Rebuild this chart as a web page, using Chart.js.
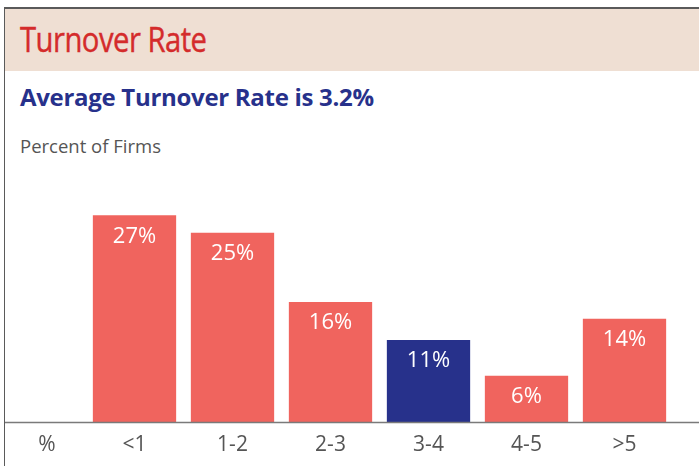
<!DOCTYPE html>
<html>
<head>
<meta charset="utf-8">
<script src="https://cdn.jsdelivr.net/npm/chart.js@4/dist/chart.umd.min.js"></script>
<style>
  html, body { margin: 0; padding: 0; background: #fff; }
  body { width: 699px; height: 466px; position: relative; overflow: hidden; font-family: "Open Sans", sans-serif; }
  #frame { position: absolute; left: 4px; top: 7px; width: 700px; height: 470px; border-top: 2px solid #5a5a5a; border-left: 1.5px solid #5a5a5a; box-sizing: border-box; }
  #band { position: absolute; left: 5px; top: 9px; width: 694px; height: 62px; background: #efdfd3; }
  .txt { position: absolute; white-space: nowrap; line-height: 1; }
  #title { left: 20px; top: 22px; font-size: 34px; color: #d42b2b; letter-spacing: -0.6px; transform: scaleX(0.86); transform-origin: 0 0; -webkit-text-stroke: 0.4px #d42b2b; }
  #sub { left: 20px; top: 85px; font-size: 24px; font-weight: 700; color: #27318b; letter-spacing: -0.3px; }
  #unit { left: 20px; top: 137px; font-size: 18.5px; color: #555; }
  #c { position: absolute; left: 0; top: 0; }
</style>
</head>
<body>
<div id="band"></div>
<div id="frame"></div>
<div class="txt" id="title">Turnover Rate</div>
<div class="txt" id="sub">Average Turnover Rate is 3.2%</div>
<div class="txt" id="unit">Percent of Firms</div>
<canvas id="c" width="699" height="466"></canvas>
<script>
const categories = ["<1", "1-2", "2-3", "3-4", "4-5", ">5"];
const percentOfFirms = [27.2, 24.9, 15.8, 10.8, 6.1, 13.6];
const barColors = ["#f0645e", "#f0645e", "#f0645e", "#27318b", "#f0645e", "#f0645e"];
const axisUnitLabel = "%";

const tickFont = { family: "'Open Sans', sans-serif", size: 21 };

const overlay = {
  id: 'overlay',
  afterDatasetsDraw(chart) {
    const ctx = chart.ctx;
    const meta = chart.getDatasetMeta(0);
    ctx.save();
    ctx.fillStyle = '#ffffff';
    ctx.font = "22px 'Open Sans', sans-serif";
    ctx.textAlign = 'center';
    ctx.textBaseline = 'middle';
    meta.data.forEach((bar, i) => {
      ctx.fillText(Math.round(percentOfFirms[i]) + '%', bar.x, bar.y + 21);
    });
    const y0 = chart.scales.y.getPixelForValue(0);
    ctx.strokeStyle = '#7a7a7a';
    ctx.lineWidth = 1.5;
    ctx.beginPath();
    ctx.moveTo(5, y0 + 0.5);
    ctx.lineTo(699, y0 + 0.5);
    ctx.stroke();
    ctx.font = "21px 'Open Sans', sans-serif";
    ctx.fillStyle = '#555';
    ctx.fillText(axisUnitLabel, 47, y0 + 23);
    ctx.restore();
  }
};

new Chart(document.getElementById('c'), {
  type: 'bar',
  data: {
    labels: categories,
    datasets: [{
      data: percentOfFirms,
      backgroundColor: barColors,
      borderWidth: 0,
      barPercentage: 0.85,
      categoryPercentage: 1.0
    }]
  },
  options: {
    responsive: false,
    animation: false,
    events: [],
    layout: { padding: { left: 85.5, right: 25.5, top: 194, bottom: 0 } },
    plugins: { legend: { display: false }, tooltip: { enabled: false } },
    scales: {
      x: {
        grid: { display: false, drawTicks: false },
        border: { display: false },
        ticks: { color: '#555', font: tickFont, padding: 10, maxRotation: 0 },
        afterFit(s) { s.height = 44; }
      },
      y: {
        display: false,
        min: 0,
        max: 30
      }
    }
  },
  plugins: [overlay]
});
</script>
</body>
</html>
